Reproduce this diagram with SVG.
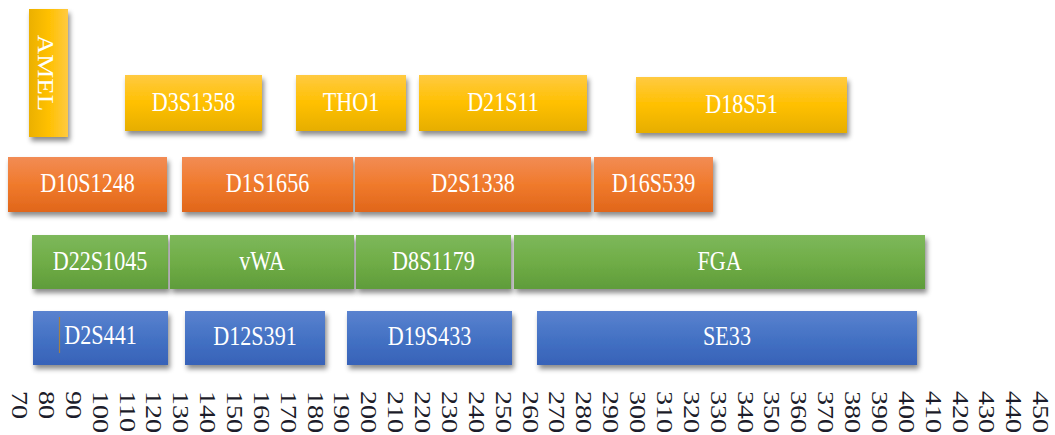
<svg xmlns="http://www.w3.org/2000/svg" width="1055" height="435" viewBox="0 0 1055 435">
  <defs>
    <linearGradient id="gYellow" x1="0" y1="0" x2="0" y2="1">
      <stop offset="0" stop-color="#FFCA42"/>
      <stop offset="0.5" stop-color="#FFC000"/>
      <stop offset="1" stop-color="#E6AE00"/>
    </linearGradient>
    <linearGradient id="gYellowH" x1="1" y1="0" x2="0" y2="0">
      <stop offset="0" stop-color="#FFCA42"/>
      <stop offset="0.5" stop-color="#FFC000"/>
      <stop offset="1" stop-color="#EBB000"/>
    </linearGradient>
    <linearGradient id="gOrange" x1="0" y1="0" x2="0" y2="1">
      <stop offset="0" stop-color="#F28C55"/>
      <stop offset="0.5" stop-color="#F07A2C"/>
      <stop offset="1" stop-color="#E0661A"/>
    </linearGradient>
    <linearGradient id="gGreen" x1="0" y1="0" x2="0" y2="1">
      <stop offset="0" stop-color="#7DB85B"/>
      <stop offset="0.5" stop-color="#70AD47"/>
      <stop offset="1" stop-color="#5F9C3A"/>
    </linearGradient>
    <linearGradient id="gBlue" x1="0" y1="0" x2="0" y2="1">
      <stop offset="0" stop-color="#5A82CF"/>
      <stop offset="0.5" stop-color="#4472C4"/>
      <stop offset="1" stop-color="#3762B8"/>
    </linearGradient>
    <filter id="shadow" x="-10%" y="-20%" width="130%" height="160%">
      <feDropShadow dx="2" dy="4" stdDeviation="2.5" flood-color="#000" flood-opacity="0.45"/>
    </filter>
  </defs>
  <style>
    .box { filter: url(#shadow); }
    .y { fill: url(#gYellow); }
    .o { fill: url(#gOrange); }
    .g { fill: url(#gGreen); }
    .b { fill: url(#gBlue); }
    .lbl { font-family: "Liberation Serif", "Times New Roman", serif; font-size: 27px; fill: #ffffff; text-anchor: middle; }
    .tick { font-family: "Liberation Serif", "Times New Roman", serif; font-size: 28px; fill: #1c1c2a; }
  </style>

  <rect width="1055" height="435" fill="#ffffff"/>

  <!-- yellow row -->
  <g id="AMEL">
    <rect class="box" x="29" y="9" width="39" height="128" fill="url(#gYellowH)"/>
    <text class="lbl" font-size="28" transform="translate(38,73) scale(0.82,1) rotate(90)" x="0" y="0">AMEL</text>
  </g>
  <g id="D3S1358">
    <rect class="box y" x="125" y="75" width="137" height="56"/>
    <text class="lbl" transform="translate(193.5,111) scale(0.82,1)">D3S1358</text>
  </g>
  <g id="THO1">
    <rect class="box y" x="296" y="75" width="110" height="56"/>
    <text class="lbl" transform="translate(351,111) scale(0.82,1)">THO1</text>
  </g>
  <g id="D21S11">
    <rect class="box y" x="419" y="75" width="168" height="56"/>
    <text class="lbl" transform="translate(503,111) scale(0.82,1)">D21S11</text>
  </g>
  <g id="D18S51">
    <rect class="box y" x="636" y="77" width="211" height="56"/>
    <text class="lbl" transform="translate(741.5,113) scale(0.82,1)">D18S51</text>
  </g>

  <!-- orange row -->
  <g id="D10S1248">
    <rect class="box o" x="8" y="157" width="159" height="55"/>
    <text class="lbl" transform="translate(87.5,192) scale(0.82,1)">D10S1248</text>
  </g>
  <g id="D1S1656">
    <rect class="box o" x="182" y="157" width="171" height="55"/>
    <text class="lbl" transform="translate(267.5,192) scale(0.82,1)">D1S1656</text>
  </g>
  <g id="D2S1338">
    <rect class="box o" x="355" y="157" width="236" height="55"/>
    <text class="lbl" transform="translate(473,192) scale(0.82,1)">D2S1338</text>
  </g>
  <g id="D16S539">
    <rect class="box o" x="594" y="157" width="119" height="55"/>
    <text class="lbl" transform="translate(653.5,192) scale(0.82,1)">D16S539</text>
  </g>

  <!-- green row -->
  <g id="D22S1045">
    <rect class="box g" x="32" y="235" width="136" height="54"/>
    <text class="lbl" transform="translate(100,270) scale(0.82,1)">D22S1045</text>
  </g>
  <g id="vWA">
    <rect class="box g" x="170" y="235" width="184" height="54"/>
    <text class="lbl" transform="translate(262,270) scale(0.82,1)">vWA</text>
  </g>
  <g id="D8S1179">
    <rect class="box g" x="356" y="235" width="155" height="54"/>
    <text class="lbl" transform="translate(433.5,270) scale(0.82,1)">D8S1179</text>
  </g>
  <g id="FGA">
    <rect class="box g" x="514" y="235" width="411" height="54"/>
    <text class="lbl" transform="translate(719.5,270) scale(0.82,1)">FGA</text>
  </g>

  <!-- blue row -->
  <g id="D2S441">
    <rect class="box b" x="33" y="311" width="135" height="54"/>
    <line x1="59.5" y1="317" x2="59.5" y2="353" stroke="#A0804A" stroke-width="1.2"/>
    <text class="lbl" transform="translate(100.5,344) scale(0.82,1)">D2S441</text>
  </g>
  <g id="D12S391">
    <rect class="box b" x="185" y="311" width="140" height="54"/>
    <text class="lbl" transform="translate(255,345) scale(0.82,1)">D12S391</text>
  </g>
  <g id="D19S433">
    <rect class="box b" x="347" y="311" width="165" height="54"/>
    <text class="lbl" transform="translate(429.5,345) scale(0.82,1)">D19S433</text>
  </g>
  <g id="SE33">
    <rect class="box b" x="537" y="311" width="380" height="54"/>
    <text class="lbl" transform="translate(727,345) scale(0.82,1)">SE33</text>
  </g>

  <!-- connectors: none -->
  <g id="connectors"/>

  <!-- size axis, labels rotated to read downward -->
  <g id="axis" class="tick">
    <text transform="translate(12,391) scale(0.82,1) rotate(90)">70</text>
    <text transform="translate(38.9,391) scale(0.82,1) rotate(90)">80</text>
    <text transform="translate(65.7,391) scale(0.82,1) rotate(90)">90</text>
    <text transform="translate(92.6,391) scale(0.82,1) rotate(90)">100</text>
    <text transform="translate(119.5,391) scale(0.82,1) rotate(90)">110</text>
    <text transform="translate(146.4,391) scale(0.82,1) rotate(90)">120</text>
    <text transform="translate(173.2,391) scale(0.82,1) rotate(90)">130</text>
    <text transform="translate(200.1,391) scale(0.82,1) rotate(90)">140</text>
    <text transform="translate(227,391) scale(0.82,1) rotate(90)">150</text>
    <text transform="translate(253.8,391) scale(0.82,1) rotate(90)">160</text>
    <text transform="translate(280.7,391) scale(0.82,1) rotate(90)">170</text>
    <text transform="translate(307.6,391) scale(0.82,1) rotate(90)">180</text>
    <text transform="translate(334.4,391) scale(0.82,1) rotate(90)">190</text>
    <text transform="translate(361.3,391) scale(0.82,1) rotate(90)">200</text>
    <text transform="translate(388.2,391) scale(0.82,1) rotate(90)">210</text>
    <text transform="translate(415,391) scale(0.82,1) rotate(90)">220</text>
    <text transform="translate(441.9,391) scale(0.82,1) rotate(90)">230</text>
    <text transform="translate(468.8,391) scale(0.82,1) rotate(90)">240</text>
    <text transform="translate(495.7,391) scale(0.82,1) rotate(90)">250</text>
    <text transform="translate(522.5,391) scale(0.82,1) rotate(90)">260</text>
    <text transform="translate(549.4,391) scale(0.82,1) rotate(90)">270</text>
    <text transform="translate(576.3,391) scale(0.82,1) rotate(90)">280</text>
    <text transform="translate(603.1,391) scale(0.82,1) rotate(90)">290</text>
    <text transform="translate(630,391) scale(0.82,1) rotate(90)">300</text>
    <text transform="translate(656.9,391) scale(0.82,1) rotate(90)">310</text>
    <text transform="translate(683.8,391) scale(0.82,1) rotate(90)">320</text>
    <text transform="translate(710.6,391) scale(0.82,1) rotate(90)">330</text>
    <text transform="translate(737.5,391) scale(0.82,1) rotate(90)">340</text>
    <text transform="translate(764.4,391) scale(0.82,1) rotate(90)">350</text>
    <text transform="translate(791.2,391) scale(0.82,1) rotate(90)">360</text>
    <text transform="translate(818.1,391) scale(0.82,1) rotate(90)">370</text>
    <text transform="translate(845,391) scale(0.82,1) rotate(90)">380</text>
    <text transform="translate(871.8,391) scale(0.82,1) rotate(90)">390</text>
    <text transform="translate(898.7,391) scale(0.82,1) rotate(90)">400</text>
    <text transform="translate(925.6,391) scale(0.82,1) rotate(90)">410</text>
    <text transform="translate(952.5,391) scale(0.82,1) rotate(90)">420</text>
    <text transform="translate(979.3,391) scale(0.82,1) rotate(90)">430</text>
    <text transform="translate(1006.2,391) scale(0.82,1) rotate(90)">440</text>
    <text transform="translate(1033.1,391) scale(0.82,1) rotate(90)">450</text>
  </g>
</svg>
